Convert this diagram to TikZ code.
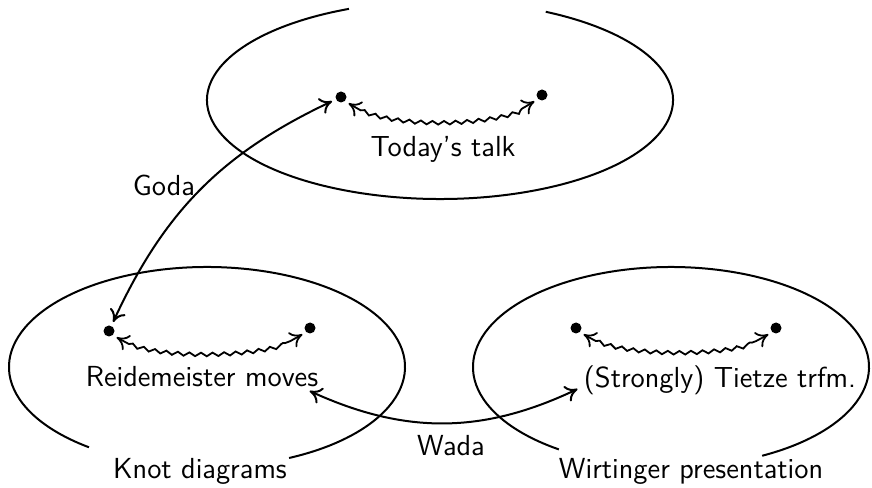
\documentclass[tikz,border=0pt]{standalone}
\usetikzlibrary{arrows.meta,decorations.pathmorphing}
\begin{document}
\begin{tikzpicture}[x=0.5pt,y=0.5pt,
  txt/.style={font=\sffamily\fontsize{14.5}{17}\selectfont, anchor=base, inner sep=0pt},
  dotnode/.style={circle, fill=black, inner sep=0pt, minimum size=5.5pt, outer sep=2.2pt},
  ring/.style={line width=1pt},
  tip/.tip={Computer Modern Rightarrow[length=6pt,width=8.5pt]},
  arr/.style={line width=1pt, tip-tip},
  wavy/.style={line width=0.9pt, tip-tip, decorate,
    decoration={snake, amplitude=0.9pt, segment length=5.8pt, pre length=7pt, post length=7pt}}]
\useasboundingbox (0,0) rectangle (872,487);
% ellipses
\draw[ring] (440,387) ++(113:116.5pt and 49.5pt) arc[start angle=113, end angle=423, x radius=116.5pt, y radius=49.5pt];
\draw[ring] (207,120) ++(-65.5:99pt and 50pt) arc[start angle=-65.5, end angle=233.4, x radius=99pt, y radius=50pt];
\draw[ring] (671,120) ++(-62.6:99pt and 50pt) arc[start angle=-62.6, end angle=235.5, x radius=99pt, y radius=50pt];
% dots
\node[dotnode] (t1) at (341,390) {};
\node[dotnode] (t2) at (542,392) {};
\node[dotnode] (l1) at (109,156) {};
\node[dotnode] (l2) at (310,159) {};
\node[dotnode] (r1) at (576,159) {};
\node[dotnode] (r2) at (776,159) {};
% texts
\node[txt] (today) at (443,330) {Today's talk};
\node[txt] (rm) at (202,100) {Reidemeister moves};
\node[txt] (tt) at (720,99) {(Strongly) Tietze trfm.};
\node[txt] (kd) at (200,9) {Knot diagrams};
\node[txt] (wp) at (691,9) {Wirtinger presentation};
\node[txt] (goda) at (164,291) {Goda};
\node[txt] (wada) at (451,32) {Wada};
% wavy arrows
\draw[wavy] (t1) to[out=-40,in=-140,looseness=0.55] (t2);
\draw[wavy] (l1) to[out=-40,in=-140,looseness=0.5] (l2);
\draw[wavy] (r1) to[out=-40,in=-140,looseness=0.5] (r2);
% long arrows
\draw[arr] (t1) to[bend right=20] (l1);
\draw[arr] ([shift={(-9,-4)}]rm.base east) to[bend right=25] ([shift={(-6,-1)}]tt.base west);
\end{tikzpicture}
\end{document}
